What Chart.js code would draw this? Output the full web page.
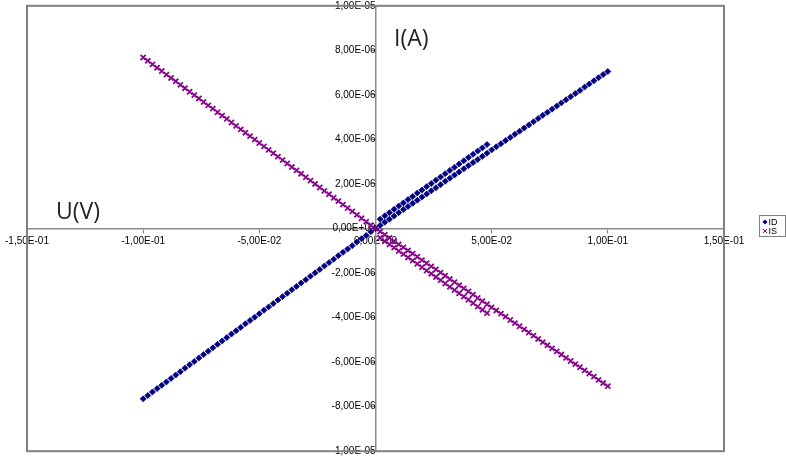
<!DOCTYPE html>
<html>
<head>
<meta charset="utf-8">
<script src="https://cdn.jsdelivr.net/npm/chart.js@4.4.1/dist/chart.umd.min.js"></script>
<style>
  body { margin: 0; background: #fff; }
</style>
</head>
<body>
<canvas id="grafico" width="786" height="457"></canvas>
<script>
// tension U (V), balayage principal
var uSweep = [-0.100,-0.098,-0.096,-0.094,-0.092,-0.090,-0.088,-0.086,-0.084,-0.082,
  -0.080,-0.078,-0.076,-0.074,-0.072,-0.070,-0.068,-0.066,-0.064,-0.062,
  -0.060,-0.058,-0.056,-0.054,-0.052,-0.050,-0.048,-0.046,-0.044,-0.042,
  -0.040,-0.038,-0.036,-0.034,-0.032,-0.030,-0.028,-0.026,-0.024,-0.022,
  -0.020,-0.018,-0.016,-0.014,-0.012,-0.010,-0.008,-0.006,-0.004,-0.002,0,
  0.002,0.004,0.006,0.008,0.010,0.012,0.014,0.016,0.018,0.020,
  0.022,0.024,0.026,0.028,0.030,0.032,0.034,0.036,0.038,0.040,
  0.042,0.044,0.046,0.048,0.050,0.052,0.054,0.056,0.058,0.060,
  0.062,0.064,0.066,0.068,0.070,0.072,0.074,0.076,0.078,0.080,
  0.082,0.084,0.086,0.088,0.090,0.092,0.094,0.096,0.098,0.100];

var idSweep = [-7.65e-6,-7.50e-6,-7.34e-6,-7.19e-6,-7.04e-6,-6.89e-6,-6.73e-6,-6.58e-6,-6.43e-6,-6.27e-6,
  -6.12e-6,-5.97e-6,-5.81e-6,-5.66e-6,-5.51e-6,-5.36e-6,-5.20e-6,-5.05e-6,-4.90e-6,-4.74e-6,
  -4.59e-6,-4.44e-6,-4.28e-6,-4.13e-6,-3.98e-6,-3.83e-6,-3.67e-6,-3.52e-6,-3.37e-6,-3.21e-6,
  -3.06e-6,-2.91e-6,-2.75e-6,-2.60e-6,-2.45e-6,-2.30e-6,-2.14e-6,-1.99e-6,-1.84e-6,-1.68e-6,
  -1.53e-6,-1.38e-6,-1.22e-6,-1.07e-6,-0.92e-6,-0.77e-6,-0.61e-6,-0.46e-6,-0.31e-6,-0.15e-6,0,
  0.14e-6,0.28e-6,0.42e-6,0.56e-6,0.71e-6,0.85e-6,0.99e-6,1.13e-6,1.27e-6,1.41e-6,
  1.55e-6,1.69e-6,1.83e-6,1.97e-6,2.12e-6,2.26e-6,2.40e-6,2.54e-6,2.68e-6,2.82e-6,
  2.96e-6,3.10e-6,3.24e-6,3.38e-6,3.53e-6,3.67e-6,3.81e-6,3.95e-6,4.09e-6,4.23e-6,
  4.37e-6,4.51e-6,4.65e-6,4.79e-6,4.94e-6,5.08e-6,5.22e-6,5.36e-6,5.50e-6,5.64e-6,
  5.78e-6,5.92e-6,6.06e-6,6.20e-6,6.35e-6,6.49e-6,6.63e-6,6.77e-6,6.91e-6,7.05e-6];

var isSweep = [7.68e-6,7.53e-6,7.37e-6,7.22e-6,7.07e-6,6.91e-6,6.76e-6,6.61e-6,6.45e-6,6.30e-6,
  6.14e-6,5.99e-6,5.84e-6,5.68e-6,5.53e-6,5.38e-6,5.22e-6,5.07e-6,4.92e-6,4.76e-6,
  4.61e-6,4.45e-6,4.30e-6,4.15e-6,3.99e-6,3.84e-6,3.69e-6,3.53e-6,3.38e-6,3.23e-6,
  3.07e-6,2.92e-6,2.76e-6,2.61e-6,2.46e-6,2.30e-6,2.15e-6,2.00e-6,1.84e-6,1.69e-6,
  1.54e-6,1.38e-6,1.23e-6,1.07e-6,0.92e-6,0.77e-6,0.61e-6,0.46e-6,0.31e-6,0.15e-6,0,
  -0.14e-6,-0.28e-6,-0.42e-6,-0.57e-6,-0.71e-6,-0.85e-6,-0.99e-6,-1.13e-6,-1.27e-6,-1.42e-6,
  -1.56e-6,-1.70e-6,-1.84e-6,-1.98e-6,-2.12e-6,-2.27e-6,-2.41e-6,-2.55e-6,-2.69e-6,-2.83e-6,
  -2.97e-6,-3.12e-6,-3.26e-6,-3.40e-6,-3.54e-6,-3.68e-6,-3.82e-6,-3.96e-6,-4.11e-6,-4.25e-6,
  -4.39e-6,-4.53e-6,-4.67e-6,-4.81e-6,-4.96e-6,-5.10e-6,-5.24e-6,-5.38e-6,-5.52e-6,-5.66e-6,
  -5.81e-6,-5.95e-6,-6.09e-6,-6.23e-6,-6.37e-6,-6.51e-6,-6.65e-6,-6.80e-6,-6.94e-6,-7.08e-6];

// deuxieme passage 0 -> 0,048 V (hysteresis)
var uBranch = [0.002,0.004,0.006,0.008,0.010,0.012,0.014,0.016,0.018,0.020,0.022,0.024,
  0.026,0.028,0.030,0.032,0.034,0.036,0.038,0.040,0.042,0.044,0.046,0.048];
var idBranch = [0.42e-6,0.57e-6,0.71e-6,0.86e-6,1.01e-6,1.15e-6,1.30e-6,1.44e-6,1.59e-6,1.73e-6,1.88e-6,2.02e-6,
  2.17e-6,2.31e-6,2.46e-6,2.61e-6,2.75e-6,2.90e-6,3.04e-6,3.19e-6,3.33e-6,3.48e-6,3.62e-6,3.77e-6];
var isBranch = [-0.42e-6,-0.57e-6,-0.71e-6,-0.86e-6,-1.01e-6,-1.15e-6,-1.30e-6,-1.44e-6,-1.59e-6,-1.74e-6,-1.89e-6,-2.03e-6,
  -2.18e-6,-2.32e-6,-2.47e-6,-2.62e-6,-2.77e-6,-2.91e-6,-3.06e-6,-3.20e-6,-3.35e-6,-3.51e-6,-3.65e-6,-3.80e-6];

var xMin = -0.15, xMax = 0.15, xStep = 0.05;
var yMin = -1e-5, yMax = 1e-5, yStep = 2e-6;
var xTitle = 'U(V)', yTitle = 'I(A)';
var seriesNames = ['ID', 'IS'];

function points(xs, ys) {
  return xs.map(function (x, i) { return { x: x, y: ys[i] }; });
}

// format Excel 0,00E+00
function formatExcel(v, step) {
  if (Math.abs(v) < step * 1e-6) v = 0;
  var parts = v.toExponential(2).split('e');
  var e = parseInt(parts[1], 10);
  return parts[0].replace('.', ',') + 'E' + (e < 0 ? '-' : '+') + String(Math.abs(e)).padStart(2, '0');
}

var decor = {
  id: 'decor',
  beforeDatasetsDraw: function (chart) {
    var a = chart.chartArea, ctx = chart.ctx;
    ctx.save();
    ctx.strokeStyle = '#808080';
    ctx.lineWidth = 2;
    ctx.strokeRect(a.left, a.top, a.right - a.left, a.bottom - a.top);
    ctx.restore();
  },
  afterDraw: function (chart) {
    var ctx = chart.ctx;
    ctx.save();
    ctx.fillStyle = '#222';
    ctx.font = '23px "Open Sans"';
    ctx.textBaseline = 'middle';
    ctx.textAlign = 'left';
    ctx.fillText(yTitle, 394, 39);
    ctx.fillText(xTitle, 56, 212);

    // legende
    ctx.fillStyle = '#fff';
    ctx.fillRect(759.5, 215.5, 26, 21);
    ctx.strokeStyle = '#808080';
    ctx.lineWidth = 1;
    ctx.strokeRect(759.5, 215.5, 26, 21);

    ctx.fillStyle = '#000080';
    ctx.beginPath();
    ctx.moveTo(765, 219.5); ctx.lineTo(767.5, 222); ctx.lineTo(765, 224.5); ctx.lineTo(762.5, 222);
    ctx.closePath(); ctx.fill();

    ctx.strokeStyle = '#800080';
    ctx.lineWidth = 1;
    ctx.beginPath();
    ctx.moveTo(763, 229); ctx.lineTo(767, 233);
    ctx.moveTo(767, 229); ctx.lineTo(763, 233);
    ctx.stroke();

    ctx.fillStyle = '#000';
    ctx.font = '9px "Liberation Sans"';
    ctx.fillText(seriesNames[0], 768.5, 222.5);
    ctx.fillText(seriesNames[1], 768.5, 231.5);
    ctx.restore();
  }
};

var ctx = document.getElementById('grafico').getContext('2d');
var grafico = new Chart(ctx, {
  type: 'scatter',
  data: {
    datasets: [{
      label: seriesNames[0],
      data: points(uSweep, idSweep).concat(points(uBranch, idBranch)),
      pointStyle: 'rectRot',
      pointRadius: 3,
      pointBackgroundColor: '#000080',
      pointBorderColor: '#000080',
      pointBorderWidth: 0.8,
      order: 1
    }, {
      label: seriesNames[1],
      data: points(uSweep, isSweep).concat(points(uBranch, isBranch)),
      pointStyle: 'crossRot',
      pointRadius: 3.6,
      pointBorderColor: '#86068a',
      pointBackgroundColor: '#86068a',
      pointBorderWidth: 1.8,
      order: 0
    }]
  },
  options: {
    responsive: false,
    animation: false,
    layout: { padding: { left: 27, top: 5, right: 62, bottom: 4 } },
    plugins: {
      legend: { display: false },
      tooltip: { enabled: false }
    },
    scales: {
      x: {
        type: 'linear',
        min: xMin, max: xMax,
        position: { y: 0 },
        grid: { drawOnChartArea: false, drawTicks: true, tickLength: 4, color: '#808080' },
        border: { display: true, color: '#8c8c8c', width: 1.5 },
        ticks: {
          stepSize: xStep,
          color: '#000',
          font: { family: '"Liberation Sans"', size: 10 },
          padding: 3,
          maxRotation: 0,
          autoSkip: false,
          callback: function (v) { return formatExcel(v, xStep); }
        },
        afterFit: function (s) { s.paddingLeft = 0; s.paddingRight = 0; }
      },
      y: {
        type: 'linear',
        min: yMin, max: yMax,
        position: { x: 0 },
        grid: { drawOnChartArea: false, drawTicks: true, tickLength: 4, color: '#808080' },
        border: { display: true, color: '#8c8c8c', width: 1.5 },
        ticks: {
          stepSize: yStep,
          color: '#000',
          font: { family: '"Liberation Sans"', size: 10 },
          padding: 3,
          autoSkip: false,
          callback: function (v) { return formatExcel(v, yStep); }
        },
        afterFit: function (s) { s.paddingTop = 0; s.paddingBottom = 0; }
      }
    }
  },
  plugins: [decor]
});
</script>
</body>
</html>
